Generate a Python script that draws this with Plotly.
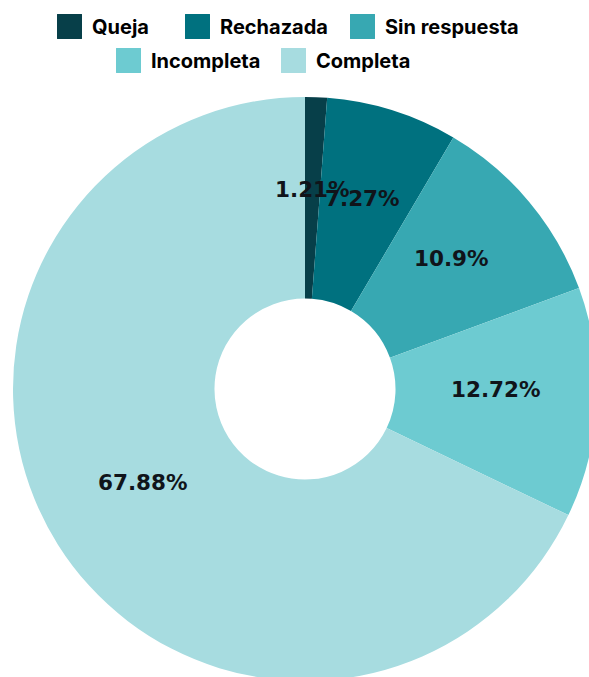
import math
import plotly.graph_objects as go

# Share of requests by outcome (percent)
categories = ["Queja", "Rechazada", "Sin respuesta", "Incompleta", "Completa"]
shares = [1.21, 7.27, 10.9, 12.72, 67.88]
slice_colors = ["#073f49", "#00717f", "#37a8b2", "#6dcbd1", "#a7dce0"]
share_labels = [f"{v:g}%" for v in shares]

# Legend rows and per-entry widths
legend_rows = ["legend", "legend", "legend", "legend2", "legend2"]
legend_entry_widths = [83, 120, 140, 120, 120]

FIG_W, FIG_H = 600, 690
HOLE = 0.31
PIE_X = [13 / FIG_W, 597 / FIG_W]
PIE_Y = [1 - 682 / FIG_H, 1 - 96 / FIG_H]

fig = go.Figure()

fig.add_trace(
    go.Pie(
        labels=categories,
        values=shares,
        textinfo="none",
        marker=dict(colors=slice_colors, line=dict(width=0)),
        hole=HOLE,
        sort=False,
        direction="clockwise",
        rotation=0,
        domain=dict(x=PIE_X, y=PIE_Y),
        text=share_labels,
        hoverinfo="label+text",
        showlegend=False,
    )
)

# Legend entries, one per category
for name, color, leg, lw in zip(categories, slice_colors, legend_rows, legend_entry_widths):
    fig.add_trace(
        go.Scatter(
            x=[None],
            y=[None],
            mode="markers",
            name=name,
            marker=dict(symbol="square", size=12, color=color, line=dict(width=0)),
            legend=leg,
            legendwidth=lw,
            hoverinfo="skip",
        )
    )

# Percentage labels placed at the middle of each ring segment
cx = (PIE_X[0] + PIE_X[1]) / 2
cy = (PIE_Y[0] + PIE_Y[1]) / 2
radius_px = min((PIE_X[1] - PIE_X[0]) * FIG_W, (PIE_Y[1] - PIE_Y[0]) * FIG_H) / 2
label_r = radius_px * (1 + HOLE) / 2
total = sum(shares)
cum = 0.0
for share, label in zip(shares, share_labels):
    ang = 2 * math.pi * (cum + share / 2) / total
    cum += share
    fig.add_annotation(
        x=cx + label_r * math.sin(ang) / FIG_W,
        y=cy + label_r * math.cos(ang) / FIG_H,
        xref="paper",
        yref="paper",
        xanchor="center",
        yanchor="middle",
        text=label,
        showarrow=False,
        yshift=8,
        font=dict(family="DejaVu Sans", size=21.5, color="#10141a", weight="bold"),
    )

legend_font = dict(family="Inter", size=20, color="#000000", weight="bold")
fig.update_layout(
    width=FIG_W,
    height=FIG_H,
    margin=dict(l=0, r=0, t=0, b=0),
    paper_bgcolor="white",
    plot_bgcolor="white",
    xaxis=dict(visible=False),
    yaxis=dict(visible=False),
    legend=dict(
        orientation="h",
        x=52 / FIG_W,
        xanchor="left",
        y=1 - 7 / FIG_H,
        yanchor="top",
        font=legend_font,
        traceorder="normal",
        bgcolor="rgba(0,0,0,0)",
    ),
    legend2=dict(
        orientation="h",
        x=111 / FIG_W,
        xanchor="left",
        y=1 - 41 / FIG_H,
        yanchor="top",
        font=legend_font,
        traceorder="normal",
        bgcolor="rgba(0,0,0,0)",
    ),
    showlegend=True,
)

post = """
document.documentElement.style.overflow = 'hidden';
document.body.style.overflow = 'hidden';
document.body.style.margin = '0';
var gd = document.getElementById('{plot_id}');
gd.querySelectorAll('.legendpoints path').forEach(function (p) {
    p.setAttribute('transform', 'translate(17.5,0) scale(2.08)');
});
"""

fig.write_html("out.html", post_script=post)
